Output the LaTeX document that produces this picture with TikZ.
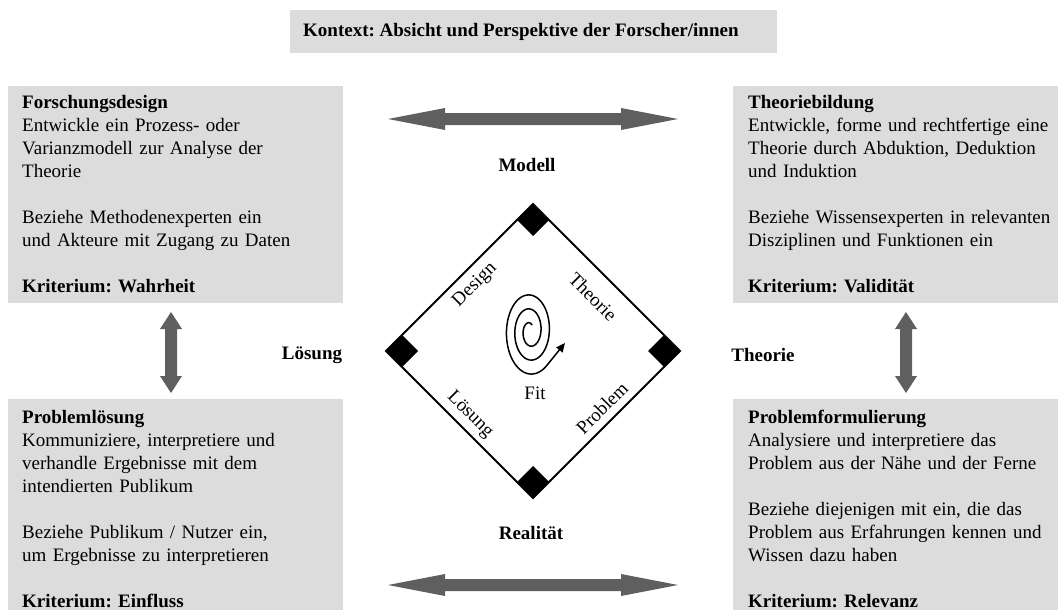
\documentclass[tikz,border=0pt]{standalone}
\usepackage{fontspec}
\setmainfont{Liberation Serif}
\usetikzlibrary{arrows.meta}
\frenchspacing
\definecolor{panelgray}{HTML}{DCDCDC}
\definecolor{arrowgray}{HTML}{5F5F5F}
\newcommand\diagfont{\fontsize{19}{23}\selectfont}
\tikzset{
  panel/.style={fill=panelgray, draw=none, inner sep=0pt, anchor=north west},
  paneltext/.style={anchor=base west, inner sep=0pt, text width=320pt, align=left},
  axislabel/.style={font=\diagfont\bfseries, inner sep=0pt},
  sidelabel/.style={inner sep=0pt},
  cornerbox/.style={fill=black},
  harrow/.pic={\fill[arrowgray] (-145,0) -- (-88,-11) -- (-88,-6) -- (88,-6) -- (88,-11)
     -- (145,0) -- (88,11) -- (88,6) -- (-88,6) -- (-88,11) -- cycle;},
  varrow/.pic={\fill[arrowgray] (0,-40.5) -- (11,-23.5) -- (6,-23.5) -- (6,23.5) -- (11,23.5)
     -- (0,40.5) -- (-11,23.5) -- (-6,23.5) -- (-6,-23.5) -- (-11,-23.5) -- cycle;},
}
\begin{document}
\begin{tikzpicture}[x=1pt, y=-1pt, font=\diagfont]
\useasboundingbox (0,0) rectangle (1058,610);

% context banner
\node[panel, minimum width=487pt, minimum height=43pt] (ctx) at (290,10) {};
\node[anchor=base west, inner sep=0pt, font=\diagfont\bfseries] (ctxtext) at (303,37)
  {Kontext: Absicht und Perspektive der Forscher/innen};

% four panels
\node[panel, minimum width=335pt, minimum height=217pt] (fd) at (8,86) {};
\node[panel, minimum width=325pt, minimum height=217pt] (tb) at (733,86) {};
\node[panel, minimum width=335pt, minimum height=211pt] (pl) at (8,399) {};
\node[panel, minimum width=325pt, minimum height=211pt] (pf) at (733,399) {};

\node[paneltext] (fdtext) at (22,109) {\textbf{Forschungsdesign}\\
  Entwickle ein Prozess- oder\\
  Varianzmodell zur Analyse der\\
  Theorie\\[23pt]
  Beziehe Methodenexperten ein\\
  und Akteure mit Zugang zu Daten\\[23pt]
  \textbf{Kriterium: Wahrheit}};

\node[paneltext] (tbtext) at (748,109) {\textbf{Theoriebildung}\\
  Entwickle, forme und rechtfertige eine\\
  Theorie durch Abduktion, Deduktion\\
  und Induktion\\[23pt]
  Beziehe Wissensexperten in relevanten\\
  Disziplinen und Funktionen ein\\[23pt]
  \textbf{Kriterium: Validität}};

\node[paneltext] (pltext) at (22,423) {\textbf{Problemlösung}\\
  Kommuniziere, interpretiere und\\
  verhandle Ergebnisse mit dem\\
  intendierten Publikum\\[23pt]
  Beziehe Publikum / Nutzer ein,\\
  um Ergebnisse zu interpretieren\\[23pt]
  \textbf{Kriterium: Einfluss}};

\node[paneltext] (pftext) at (748,423) {\textbf{Problemformulierung}\\
  Analysiere und interpretiere das\\
  Problem aus der Nähe und der Ferne\\[23pt]
  Beziehe diejenigen mit ein, die das\\
  Problem aus Erfahrungen kennen und\\
  Wissen dazu haben\\[23pt]
  \textbf{Kriterium: Relevanz}};

% double arrows between the panels
\pic at (533,119) {harrow};
\pic at (533,585) {harrow};
\pic at (171,352.5) {varrow};
\pic at (906,352.5) {varrow};

% axis labels
\node[axislabel] (modell) at (527,165) {Modell};
\node[axislabel] (realitaet) at (531,533) {Realität};
\node[axislabel] (loesung) at (312,355) {Lösung};
\node[axislabel] (theorie) at (763,355) {Theorie};

% central diamond
\coordinate (dtop) at (533,204);
\coordinate (dright) at (680,351);
\coordinate (dbottom) at (533,498);
\coordinate (dleft) at (386,351);
\fill[cornerbox] (dtop) -- ++(16,16) -- ++(-16,16) -- ++(-16,-16) -- cycle;
\fill[cornerbox] (dright) -- ++(-16,-16) -- ++(-16,16) -- ++(16,16) -- cycle;
\fill[cornerbox] (dbottom) -- ++(16,-16) -- ++(-16,-16) -- ++(-16,16) -- cycle;
\fill[cornerbox] (dleft) -- ++(16,-16) -- ++(16,16) -- ++(-16,16) -- cycle;
\draw[line width=2pt] (dtop) -- (dright) -- (dbottom) -- (dleft) -- cycle;

\node[sidelabel, rotate=45] (design) at (475,285) {Design};
\node[sidelabel, rotate=-45] (theo) at (593,297) {Theorie};
\node[sidelabel, rotate=-45] (loes) at (470,415) {Lösung};
\node[sidelabel, rotate=45] (prob) at (602,408) {Problem};

% spiral with arrow
\coordinate (fittip) at (565,343);
\draw[line width=1.5pt, -{Triangle[length=9pt,width=8pt]}]
  plot[domain=60:1030, samples=260, smooth, variable=\t]
  ({530+(4+(\t-60)/990*23)*cos(\t)}, {331-(8+(\t-90)/900*35)*sin(\t)}) -- (fittip);
\node[sidelabel] (fit) at (535,393) {Fit};
\end{tikzpicture}
\end{document}
